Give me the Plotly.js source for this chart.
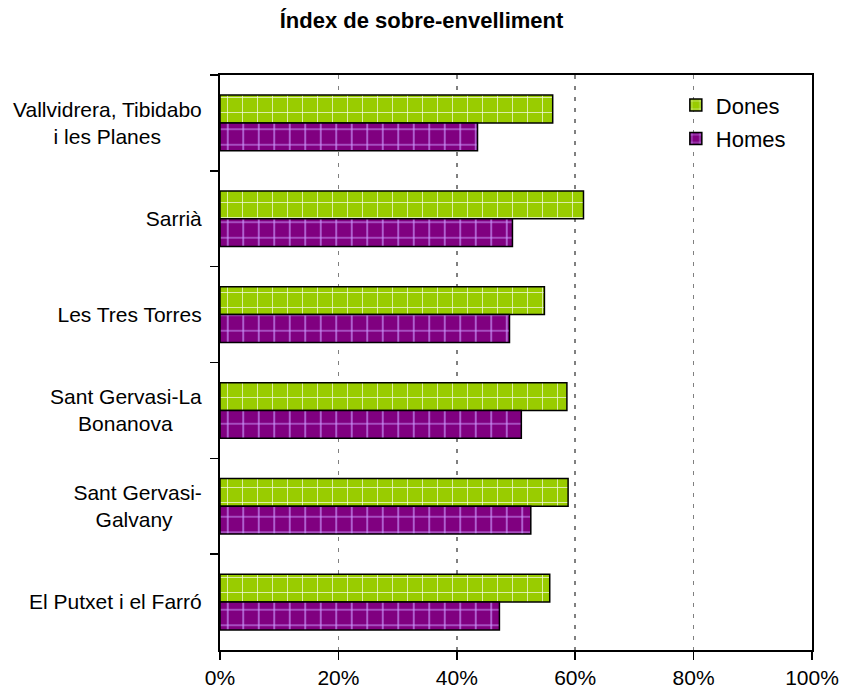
<!DOCTYPE html>
<html>
<head>
<meta charset="utf-8">
<script src="https://cdn.plot.ly/plotly-3.0.1.min.js"></script>
<style>
  html, body { margin: 0; padding: 0; background: #fff; }
  #chart { width: 843px; height: 696px; }
</style>
</head>
<body>
<div id="chart"></div>
<script>
// neighbourhoods, top to bottom as in the chart
// (trailing no-break spaces push the second line left so it looks centred)
var barris = [
  "Vallvidrera, Tibidabo<br>i les Planes\u00a0\u00a0\u00a0\u00a0\u00a0\u00a0\u00a0",
  "Sarrià",
  "Les Tres Torres",
  "Sant Gervasi-La<br>Bonanova\u00a0\u00a0\u00a0\u00a0\u00a0",
  "Sant Gervasi-<br>Galvany\u00a0\u00a0\u00a0\u00a0\u00a0",
  "El Putxet i el Farró"
];
var dones = [0.562, 0.614, 0.548, 0.586, 0.588, 0.557];
var homes = [0.435, 0.494, 0.489, 0.509, 0.525, 0.472];
var xTicks = [0, 0.2, 0.4, 0.6, 0.8, 1];

var font = "Liberation Sans, Arial, sans-serif";

var traceDones = {
  y: barris,
  x: dones,
  name: "Dones",
  legendgroup: "d",
  type: "bar",
  orientation: "h",
  marker: {
    color: "#99CC00",
    line: { color: "#000", width: 1.5 },
    pattern: { shape: "+", bgcolor: "#99CC00", fgcolor: "#ffffff", fgopacity: 0.85, size: 15, solidity: 0.1 }
  }
};

var traceHomes = {
  y: barris,
  x: homes,
  name: "Homes",
  legendgroup: "h",
  type: "bar",
  orientation: "h",
  marker: {
    color: "#800080",
    line: { color: "#000", width: 1.5 },
    pattern: { shape: "+", bgcolor: "#800080", fgcolor: "#CC99FF", size: 15.5, solidity: 0.15 }
  }
};

var layout = {
  width: 843,
  height: 696,
  margin: { l: 220, r: 31, t: 75, b: 46 },
  paper_bgcolor: "#fff",
  plot_bgcolor: "#fff",
  font: { family: font, size: 21, color: "#000" },
  title: {
    text: "<b>Índex de sobre-envelliment</b>",
    font: { family: font, size: 22 },
    x: 0.5, xref: "container",
    y: 0.971, yref: "container", yanchor: "middle"
  },
  barmode: "group",
  bargap: 0.42,
  bargroupgap: 0,
  showlegend: true,
  legend: {
    x: 0.77, y: 0.984, xanchor: "left", yanchor: "top",
    bgcolor: "rgba(0,0,0,0)",
    font: { family: font, size: 22 },
    traceorder: "grouped",
    tracegroupgap: 2
  },
  xaxis: {
    range: [0, 1],
    tickvals: xTicks,
    tickformat: ".0%",
    showgrid: true,
    gridcolor: "#808080",
    gridwidth: 1.5,
    griddash: "4px,7px",
    zeroline: false,
    showline: true,
    linecolor: "#000",
    linewidth: 2,
    mirror: true,
    ticks: "outside",
    ticklen: 8,
    tickcolor: "#000",
    tickwidth: 1.5,
    fixedrange: true
  },
  yaxis: {
    type: "category",
    autorange: "reversed",
    showgrid: false,
    zeroline: false,
    showline: true,
    linecolor: "#000",
    linewidth: 2,
    mirror: true,
    ticks: "outside",
    tickson: "boundaries",
    ticklen: 8,
    tickcolor: "#000",
    tickwidth: 1.5,
    ticklabelstandoff: 12,
    fixedrange: true
  }
};

Plotly.newPlot("chart", [traceDones, traceHomes], layout, { displayModeBar: false, staticPlot: true });
</script>
</body>
</html>
